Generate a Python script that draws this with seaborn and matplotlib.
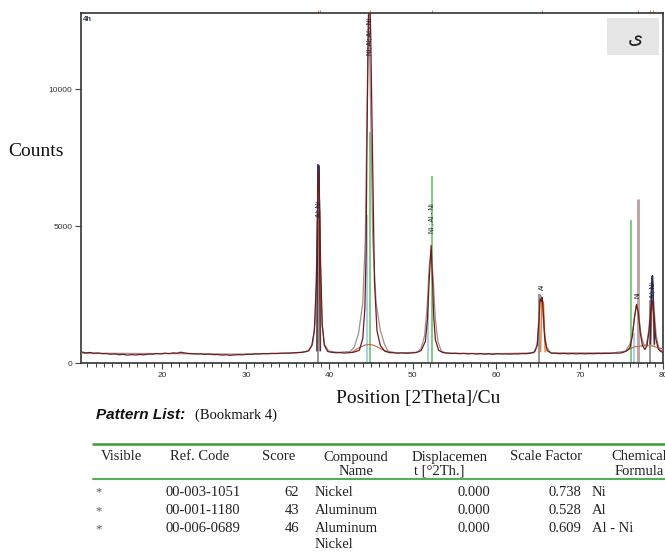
import matplotlib
matplotlib.use("Agg")
import matplotlib.pyplot as plt
import pandas as pd
import seaborn as sns
from matplotlib.lines import Line2D
from matplotlib.patches import Rectangle

# ---------------- data ----------------
meas_2theta = [10.4, 10.8, 11.3, 11.8, 12.3, 12.8, 13.3, 13.8, 14.3, 14.8, 15.3, 15.8, 16.3, 16.8,
               17.3, 17.8, 18.3, 18.8, 19.3, 19.8, 20.3, 20.8, 21.3, 21.8, 22.2, 22.6, 23.1, 23.6,
               24.1, 24.6, 25.1, 25.6, 26.1, 26.6, 27.1, 27.6, 28.1, 28.6, 29.1, 29.6, 30.1, 30.6,
               31.1, 31.6, 32.1, 32.6, 33.1, 33.6, 34.1, 34.6, 35.1, 35.6, 36.1, 36.6, 37.1, 37.5,
               37.9, 38.2, 38.45, 38.6, 38.72, 38.85, 38.95, 39.15, 39.4, 39.8,
               40.3, 40.8, 41.3, 41.8, 42.3, 42.8, 43.2, 43.6, 44.0, 44.25, 44.4, 44.5, 44.65, 44.8,
               44.95, 45.15, 45.25, 45.4, 45.7, 46.1, 46.6, 47.2,
               47.7, 48.2, 48.7, 49.2, 49.7, 50.2, 50.6, 51.0, 51.5, 51.75, 51.95, 52.19, 52.35, 52.5,
               52.7, 53.1, 53.6,
               54.1, 54.6, 55.1, 55.6, 56.1, 56.6, 57.1, 57.6, 58.1, 58.6, 59.1, 59.6, 60.1, 60.6,
               61.1, 61.6, 62.1, 62.6, 63.1, 63.6, 64.1, 64.6, 64.9, 65.1, 65.25, 65.4, 65.5, 65.65,
               65.8, 66.1, 66.6,
               67.1, 67.6, 68.1, 68.6, 69.1, 69.6, 70.1, 70.6, 71.1, 71.6, 72.1, 72.6, 73.1, 73.6,
               74.1, 74.6, 75.1, 75.6, 76.0, 76.3, 76.55, 76.8, 77.0, 77.25, 77.5,
               77.8, 78.05, 78.3, 78.5, 78.7, 78.85, 79.1, 79.4, 79.7, 80.0]
meas_counts = [410, 380, 395, 365, 375, 350, 355, 330, 340, 315, 325, 300, 315, 305,
               320, 310, 335, 330, 355, 345, 370, 355, 380, 370, 405, 380, 360, 350,
               340, 345, 325, 335, 315, 320, 300, 310, 290, 305, 315, 310, 330, 325,
               345, 340, 355, 350, 360, 355, 365, 370, 370, 380, 390, 395, 420, 460,
               650, 1200, 3000, 6200, 7100, 5600, 3600, 1400, 650, 430,
               400, 385, 390, 375, 385, 400, 430, 480, 900, 2000, 4000, 8000, 12000, 14000,
               12000, 8000, 5800, 3000, 1200, 650, 450, 390,
               385, 370, 380, 365, 375, 385, 410, 470, 800, 1600, 3000, 4300, 3100, 1700,
               850, 470, 390,
               375, 360, 365, 350, 360, 345, 355, 340, 350, 335, 345, 330, 350, 340,
               345, 335, 345, 340, 355, 350, 370, 420, 650, 1500, 2350, 2250, 2400, 1700,
               900, 460, 370,
               365, 350, 360, 345, 355, 345, 355, 345, 355, 350, 360, 355, 365, 360,
               375, 370, 390, 450, 560, 1000, 1700, 2150, 1850, 1100, 650,
               500, 650, 1200, 2000, 2300, 1800, 900, 520, 430, 400]

calc_2theta = [10.4, 20, 30, 36, 37.5, 38.0, 38.3, 38.5, 38.7, 38.9, 39.1, 39.4, 39.9, 41, 42.5, 43.0,
               43.5, 44.0, 44.3, 44.55, 44.7, 44.9, 45.2, 45.6, 46.1, 46.6, 47.0, 48, 50.5, 51.0, 51.4,
               51.7, 51.95, 52.2, 52.45, 52.7, 53.0, 53.4, 54, 60, 64.5, 64.9, 65.15, 65.3, 65.5, 65.7,
               66.0, 66.5, 74, 75.5, 76.0, 76.4, 76.75, 77.0, 77.35, 77.7, 78.0, 78.3, 78.55, 78.7,
               78.85, 79.15, 79.5, 80.0]
calc_counts = [370, 355, 335, 380, 440, 700, 1500, 4000, 7000, 4000, 1500, 700, 450, 400, 430, 600,
               1100, 2200, 4500, 10000, 13500, 10000, 4500, 2200, 1200, 700, 450, 380, 400, 550, 1000,
               2000, 3500, 4100, 3000, 1600, 800, 450, 370, 350, 380, 700, 2000, 2500, 2300, 1300,
               600, 380, 380, 450, 700, 1300, 2100, 1900, 1000, 650, 700, 1300, 2600, 3100,
               2200, 1000, 520, 420]

bg_segment = [1, 1, 1, 1, 1, 1, 1, 2, 2, 2, 2, 2, 2]
bg_2theta = [42.8, 43.5, 44.2, 44.8, 45.4, 46.2, 47.0, 75.6, 76.5, 77.5, 78.5, 79.5, 80.0]
bg_counts = [420, 560, 660, 690, 650, 520, 420, 470, 600, 640, 640, 560, 520]

orange_segment = [1, 1, 1, 1, 2, 2, 2, 2, 3, 3, 3, 3]
orange_2theta = [38.6, 38.7, 38.85, 38.95, 65.3, 65.45, 65.65, 65.85, 78.5, 78.6, 78.75, 78.9]
orange_counts = [480, 5400, 5500, 480, 420, 2350, 2200, 420, 650, 2250, 2300, 650]

navy_segment = [1, 1, 1, 1, 2, 2, 2, 2]
navy_2theta = [38.5, 38.62, 38.78, 38.9, 78.45, 78.62, 78.72, 78.95]
navy_counts = [450, 7250, 7200, 450, 700, 3150, 3200, 700]

al_pos = [38.6, 65.15, 78.4]
al_height = [7200, 2520, 2300]
ni_pos = [44.52, 51.82, 76.5]
ni_height = [5400, 2300, 1100]
alni_pos = [44.87, 52.26, 76.13]
alni_height = [8430, 6830, 5220]
extra_pos = [76.93]
extra_height = [5990]

peak_labels = ["Al; Ni", "Ni; Al; Al - Ni", "Ni ; Al - Ni", "Al", "Ni", "Al; Ni"]
label_pos = [38.75, 44.85, 52.25, 65.5, 76.95, 78.7]
label_counts = [5620, 11940, 5290, 2770, 2480, 2660]

top_marks = [38.6, 38.85, 44.85, 52.25, 65.45, 77.0, 78.4, 78.75]

x_ticks = [20, 30, 40, 50, 60, 70, 80]
y_ticks = [0, 5000, 10000]

table_header1 = ["Visible", "Ref. Code", "Score", "Compound", "Displacemen", "Scale Factor", "Chemical"]
table_header2 = ["", "", "", "Name", "t [°2Th.]", "", "Formula"]
visible = ["*", "*", "*"]
ref_codes = ["00-003-1051", "00-001-1180", "00-006-0689"]
scores = [62, 43, 46]
compound_names = ["Nickel", "Aluminum", "Aluminum\nNickel"]
displacements = [0.000, 0.000, 0.000]
scale_factors = [0.738, 0.528, 0.609]
formulas = ["Ni", "Al", "Al - Ni"]

# ---------------- figure ----------------
sns.set_theme(style="white")
plt.rcParams['font.family'] = ['Liberation Sans', 'DejaVu Sans']

W, H = 665, 552
fig = plt.figure(figsize=(W / 100, H / 100), dpi=100)
fig.patch.set_facecolor("white")


def fx(px):
    return px / W


def fy(py):
    return 1 - py / H


ax = fig.add_axes([fx(81), fy(363.3), fx(663.3) - fx(81), fy(13.3) - fy(363.3)])
ax.set_facecolor("white")

# reference sticks
ax.vlines(al_pos, 0, al_height, color="#8e8e8e", lw=1.3, zorder=2)
ax.vlines(ni_pos, 0, ni_height, color="#a9c9e6", lw=1.3, zorder=2)
ax.vlines(alni_pos, 0, alni_height, color="#74c874", lw=1.3, zorder=2)
ax.vlines(extra_pos, 0, extra_height, color="#bfa6a6", lw=2.2, zorder=2)

calc_df = pd.DataFrame({"x": calc_2theta, "y": calc_counts})
sns.lineplot(data=calc_df, x="x", y="y", ax=ax, color="#a08f8f", lw=0.9,
             estimator=None, sort=False, zorder=3)

bg_df = pd.DataFrame({"x": bg_2theta, "y": bg_counts, "seg": bg_segment})
sns.lineplot(data=bg_df, x="x", y="y", units="seg", ax=ax, color="#b86a4a", lw=0.8,
             estimator=None, sort=False, zorder=3)

or_df = pd.DataFrame({"x": orange_2theta, "y": orange_counts, "seg": orange_segment})
sns.lineplot(data=or_df, x="x", y="y", units="seg", ax=ax, color="#e8782a", lw=1.0,
             estimator=None, sort=False, zorder=4)

nv_df = pd.DataFrame({"x": navy_2theta, "y": navy_counts, "seg": navy_segment})
sns.lineplot(data=nv_df, x="x", y="y", units="seg", ax=ax, color="#28305e", lw=1.0,
             estimator=None, sort=False, zorder=4)

meas_df = pd.DataFrame({"x": meas_2theta, "y": meas_counts})
sns.lineplot(data=meas_df, x="x", y="y", ax=ax, color="#6e1c1c", lw=0.9,
             estimator=None, sort=False, zorder=5)

for txt, px, py in zip(peak_labels, label_pos, label_counts):
    ax.text(px, py, txt, rotation=90, ha="center", va="center", fontsize=4.8,
            color="#1c1c2c", zorder=6)

ax.vlines(top_marks, 1.0, 1.009, transform=ax.get_xaxis_transform(), clip_on=False,
          color="#e8843c", lw=0.8)

ax.set_xlim(10.25, 80.0)
ax.set_ylim(0, 12770)
ax.set_xticks(x_ticks)
ax.set_xticks(range(11, 80), minor=True)
ax.set_yticks(y_ticks)
ax.set_xlabel("")
ax.set_ylabel("")
ax.tick_params(axis="both", which="major", direction="out", length=4.3, width=0.8,
               color="#444444", labelsize=6, labelcolor="#333333", pad=2,
               bottom=True, left=True, top=False, right=False)
ax.tick_params(axis="x", which="minor", direction="out", length=2.9, width=0.7,
               color="#444444", bottom=True)
for sp in ax.spines.values():
    sp.set_visible(True)
    sp.set_color("#333333")
    sp.set_linewidth(1.2)

ax.text(0.004, 0.992, "4h", transform=ax.transAxes, ha="left", va="top", fontsize=5.5,
        color="#2a3550", fontweight="bold")

# persian box
fig.add_artist(Rectangle((fx(607), fy(55)), fx(659) - fx(607), fy(18) - fy(55),
                         transform=fig.transFigure, facecolor="#e6e6e6", edgecolor="none", zorder=5))
fig.text(fx(635), fy(38), "ی", ha="center", va="center", fontsize=14,
         family=["DejaVu Sans"], color="#222222", zorder=6)

serif = ["Liberation Serif", "DejaVu Serif"]
fig.text(fx(36), fy(152), "Counts", ha="center", va="center", fontsize=14, family=serif, color="#111111")
fig.text(fx(418), fy(399), "Position [2Theta]/Cu", ha="center", va="center", fontsize=14,
         family=serif, color="#111111")

fig.text(fx(96), fy(415), "Pattern List:", ha="left", va="center", fontsize=11,
         fontweight="bold", fontstyle="italic", family=["Liberation Sans"], color="#111111")
fig.text(fx(195), fy(415), "(Bookmark 4)", ha="left", va="center", fontsize=10.5,
         family=serif, color="#111111")

# table
green = "#3c9c3c"
fig.add_artist(Line2D([fx(93), fx(665)], [fy(444.3)] * 2, color=green, lw=1.8,
                      transform=fig.transFigure))
fig.add_artist(Line2D([fx(93), fx(665)], [fy(478.7)] * 2, color="#58ac58", lw=1.5,
                      transform=fig.transFigure))

tfs = 10.5
hdr_x = [101, 170.5, 295.6, 356, 411.8, 582, 639]
hdr_ha = ["left", "left", "right", "center", "left", "right", "center"]
for i, (h1, h2) in enumerate(zip(table_header1, table_header2)):
    fig.text(fx(hdr_x[i]), fy(457.0), h1, ha=hdr_ha[i], va="center", fontsize=tfs,
             family=serif, color="#222222")
    if h2:
        x2 = hdr_x[i] + (1.7 if h2.startswith("t [") else 0)
        fig.text(fx(x2), fy(471.3), h2, ha=hdr_ha[i], va="center", fontsize=tfs,
                 family=serif, color="#222222")

row_y = [492.7, 511.0, 529.0]
for r in range(3):
    y = row_y[r]
    fig.text(fx(95.4), fy(y), visible[r], ha="left", va="center", fontsize=tfs - 1.5,
             family=serif, color="#555555")
    fig.text(fx(165.4), fy(y), ref_codes[r], ha="left", va="center", fontsize=tfs,
             family=serif, color="#222222")
    fig.text(fx(299), fy(y), str(scores[r]), ha="right", va="center", fontsize=tfs,
             family=serif, color="#222222")
    for k, line in enumerate(compound_names[r].split("\n")):
        fig.text(fx(314.7), fy(y + 16.0 * k), line, ha="left", va="center", fontsize=tfs,
                 family=serif, color="#222222")
    fig.text(fx(490.7), fy(y), f"{displacements[r]:.3f}", ha="right", va="center", fontsize=tfs,
             family=serif, color="#222222")
    fig.text(fx(581), fy(y), f"{scale_factors[r]:.3f}", ha="right", va="center", fontsize=tfs,
             family=serif, color="#222222")
    fig.text(fx(591.6), fy(y), formulas[r], ha="left", va="center", fontsize=tfs,
             family=serif, color="#222222")

fig.savefig("out.png", dpi=100, facecolor="white")
